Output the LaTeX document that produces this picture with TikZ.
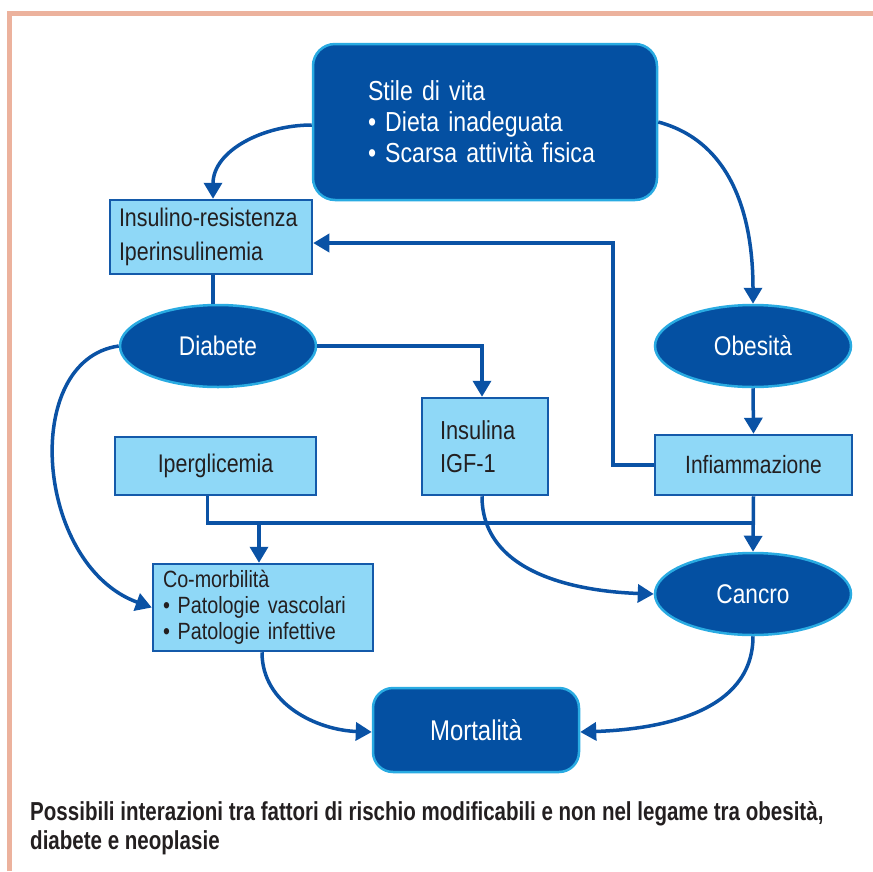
\documentclass[tikz,border=0pt]{standalone}
\usepackage{fontspec}
\setmainfont{Liberation Sans}[FakeStretch=0.84]
\newfontfamily\capfont{Liberation Sans}[FakeStretch=0.79]
\usetikzlibrary{shapes.geometric,arrows.meta}

\definecolor{deepblue}{RGB}{4,80,162}
\definecolor{rimblue}{RGB}{41,171,226}
\definecolor{paleblue}{RGB}{143,216,247}
\definecolor{edgeblue}{RGB}{20,90,170}
\definecolor{linkblue}{RGB}{10,82,165}
\definecolor{inktext}{RGB}{35,31,32}
\definecolor{salmon}{RGB}{236,178,157}

\tikzset{
  darkbox/.style={rectangle, rounded corners=22pt, fill=deepblue, draw=rimblue,
    line width=2.5pt, text=white, inner sep=0pt},
  darkoval/.style={ellipse, fill=deepblue, draw=rimblue, line width=2.5pt,
    text=white, inner sep=0pt, minimum width=196pt, minimum height=82pt,
    font=\fontsize{27}{30}\selectfont},
  lightbox/.style={rectangle, fill=paleblue, draw=edgeblue, line width=2.5pt,
    text=inktext, inner sep=0pt},
  link/.style={draw=linkblue, line width=3.5pt},
  arrow/.style={link, -{Triangle[width=18pt,length=16pt]}}
}

\begin{document}
\begin{tikzpicture}[x=1pt, y=-1pt]

    \useasboundingbox (0,0) rectangle (873,871);

    % FRAME
    \draw[salmon, line width=5pt] (9.5,871) -- (9.5,13.5) -- (873,13.5);

    % LIFESTYLE
    \node[darkbox, minimum width=344pt, minimum height=156pt,
          text width=234pt, align=left, font=\fontsize{27.5}{31}\selectfont]
        (stile) at (485,122)
        {Stile di vita\\
         • Dieta inadeguata\\
         • Scarsa attività fisica};

    % LEFT COLUMN
    \node[lightbox, minimum width=202pt, minimum height=74pt,
          text width=184pt, align=left, font=\fontsize{25.5}{34}\selectfont]
        (insres) at (211,237)
        {Insulino-resistenza\\
         Iperinsulinemia};

    \node[darkoval] (diab) at (218,346) {Diabete};

    \node[lightbox, minimum width=201pt, minimum height=58pt,
          font=\fontsize{25.5}{30}\selectfont]
        (iperg) at (215.5,466) {Iperglicemia};

    \node[lightbox, minimum width=220pt, minimum height=87pt,
          text width=200pt, align=left, font=\fontsize{23.5}{26}\selectfont]
        (comorb) at (263,607.5)
        {Co-morbilità\\
         • Patologie vascolari\\
         • Patologie infettive};

    % MIDDLE COLUMN
    \node[lightbox, minimum width=126pt, minimum height=97pt,
          text width=90pt, align=left, font=\fontsize{26}{33}\selectfont]
        (insul) at (485,446.5)
        {Insulina\\
         IGF-1};

    \node[darkbox, rounded corners=20pt, minimum width=206pt, minimum height=84pt,
          font=\fontsize{28.5}{30}\selectfont]
        (mort) at (476,730) {Mortalità};

    % RIGHT COLUMN
    \node[darkoval] (obes) at (753,346) {Obesità};

    \node[lightbox, minimum width=197pt, minimum height=60pt,
          font=\fontsize{25}{30}\selectfont]
        (infl) at (753.5,465) {Infiammazione};

    \node[darkoval] (cancro) at (753,594) {Cancro};

    % CAPTION
    \node[anchor=west, align=left, text=inktext, inner sep=0pt,
          font=\capfont\bfseries\fontsize{26}{29}\selectfont]
        (caption) at (30,828.5)
        {Possibili interazioni tra fattori di rischio modificabili e non nel legame tra obesità,\\
         diabete e neoplasie};

    % JUNCTIONS
    \coordinate (bus) at (0,523);
    \coordinate (split) at (259,523);
    \coordinate (riser) at (613,0);

    % CONNECTORS
    \draw[arrow] ([yshift=-3pt]stile.west) to[out=180, in=90] ([xshift=2pt]insres.north);
    \draw[arrow] (stile.east) to[out=-15, in=90] (obes.north);
    \draw[arrow] (obes.south) -- (infl.north);
    \draw[arrow] (infl.west) -- (infl.west -| riser) |- ([yshift=-6pt]insres.east);
    \draw[link] ([xshift=2pt]insres.south) -- ([xshift=2pt]insres.south |- diab.north);
    \draw[arrow] (diab.east) -| ([xshift=-3pt]insul.north);
    \draw[link] ([xshift=-8pt]iperg.south) |- (infl.south |- bus);
    \draw[arrow] (infl.south) -- (cancro.north);
    \draw[arrow] (split) -- (split |- comorb.north);
    \draw[arrow] ([xshift=-3pt]insul.south) to[out=-90, in=178] (cancro.west);
    \draw[arrow] (diab.west) .. controls (20,360) and (35,565) .. (comorb.west);
    \draw[arrow] ([xshift=-1pt]comorb.south) to[out=-90, in=178] ([yshift=-2pt]mort.west);
    \draw[arrow] (cancro.south) to[out=-90, in=2] ([yshift=-2pt]mort.east);

\end{tikzpicture}
\end{document}
